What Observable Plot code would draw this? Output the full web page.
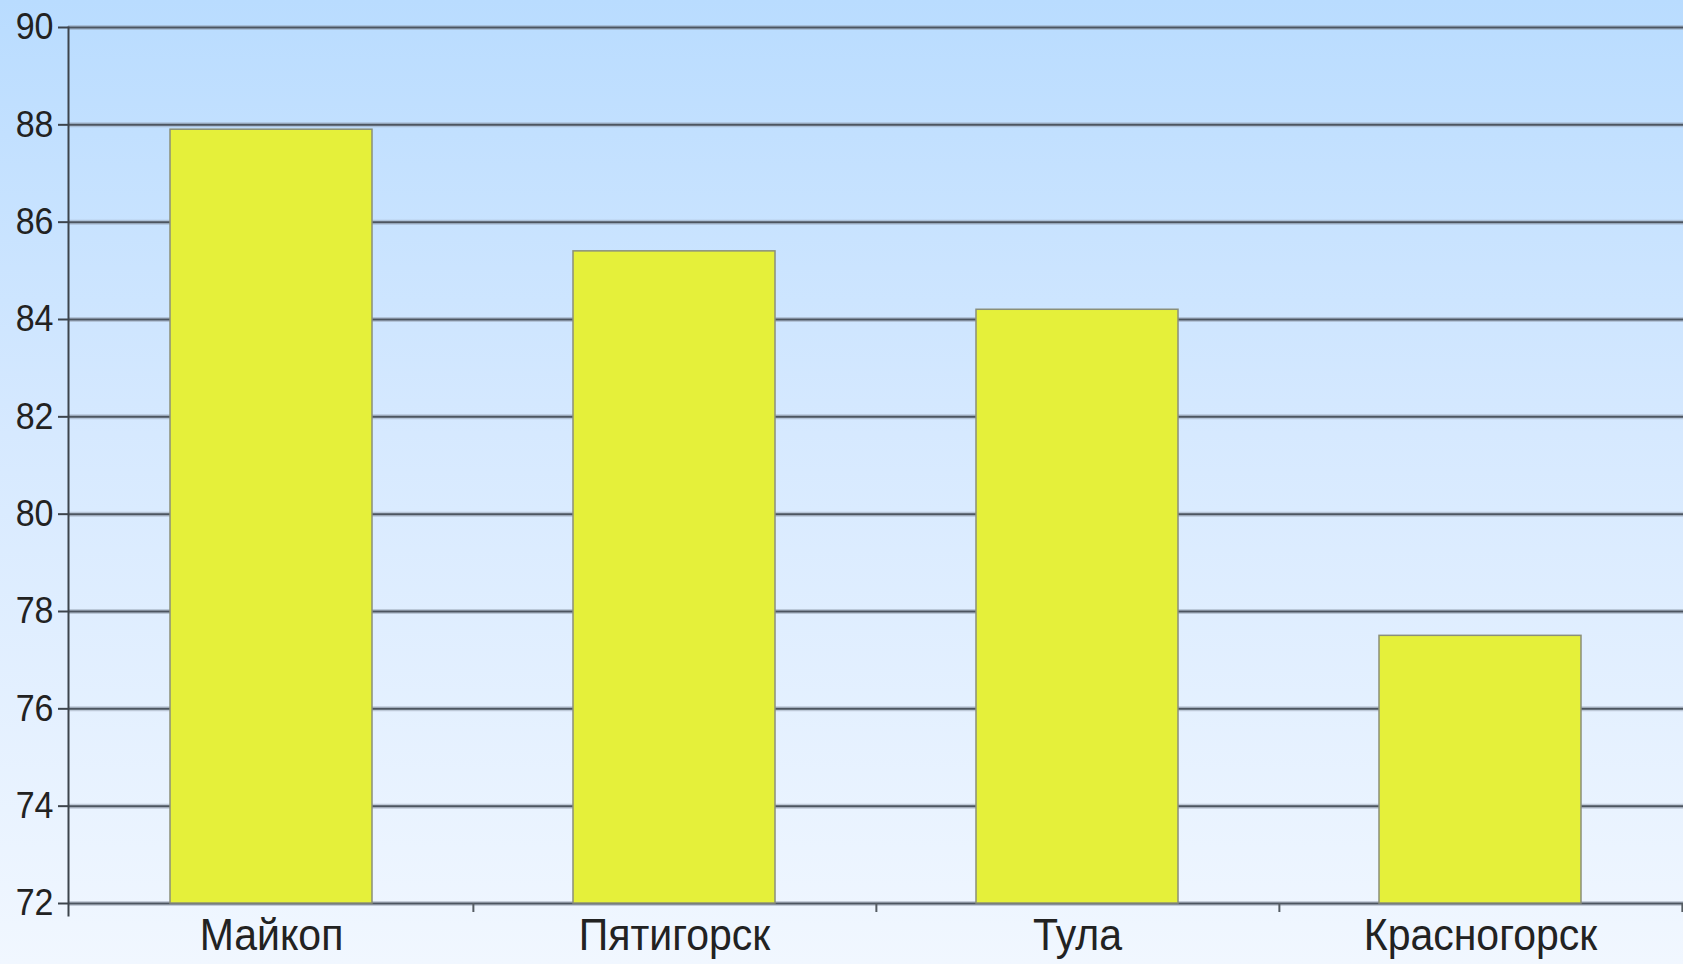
<!DOCTYPE html>
<html>
<head>
<meta charset="utf-8">
<script src="https://cdn.jsdelivr.net/npm/d3@7"></script>
<script src="https://cdn.jsdelivr.net/npm/@observablehq/plot@0.6"></script>
<style>
  html, body { margin: 0; padding: 0; background: #eef6ff; overflow: hidden; }
  #chart svg { display: block; }
  #chart svg text { font-family: "Liberation Sans", Arial, sans-serif; }
</style>
</head>
<body>
<div id="chart"></div>
<script>
const cities = ["Майкоп", "Пятигорск", "Тула", "Красногорск"];
const values = [87.9, 85.4, 84.2, 77.5];
const yTicks = [72, 74, 76, 78, 80, 82, 84, 86, 88, 90];
const yMin = 72, yMax = 90;

const data = cities.map((c, i) => ({city: c, value: values[i]}));

const W = 1683, H = 964;
const mL = 68, mR = 0, mT = 27, mB = 61;
const step = (W - mL - mR) / cities.length;

const chart = Plot.plot({
  width: W,
  height: H,
  marginLeft: mL,
  marginRight: mR,
  marginTop: mT,
  marginBottom: mB,
  style: {
    background: "linear-gradient(to bottom, #b9dcff 0%, #d6e9ff 45%, #f1f7ff 100%)",
    color: "#222"
  },
  x: {type: "band", domain: cities, paddingInner: 0.5, paddingOuter: 0.25, align: 0.5},
  y: {domain: [yMin, yMax]},
  marks: [
    Plot.ruleY(yTicks, {stroke: "#8d9aa8", strokeWidth: 5, strokeOpacity: 0.45}),
    Plot.ruleY(yTicks, {stroke: "#4c5560", strokeWidth: 2}),
    Plot.barY(data, {x: "city", y1: () => yMin, y2: "value", fill: "#e5f03a", stroke: "#8a8f7a", strokeWidth: 1.5}),
    Plot.frame({anchor: "left", stroke: "#3d444c", strokeWidth: 2, insetBottom: -12}),
    Plot.axisY({ticks: yTicks, tickSize: 10, tickPadding: 5, fontSize: 34, stroke: "#3d444c", strokeWidth: 2, fill: "#222", label: null, tickFormat: d => String(d)}),
    Plot.axisX({tickSize: 9, tickFormat: () => "", dx: step / 2, stroke: "#555c63", strokeWidth: 2, label: null}),
    Plot.axisX({tickSize: 0, tickPadding: 15, fontSize: 41, fill: "#222", label: null})
  ]
});

chart.querySelectorAll("text").forEach(t => {
  const tr = t.getAttribute("transform") || "";
  t.setAttribute("transform", (tr + " scale(1,1.08)").trim());
});

document.getElementById("chart").appendChild(chart);
</script>
</body>
</html>
